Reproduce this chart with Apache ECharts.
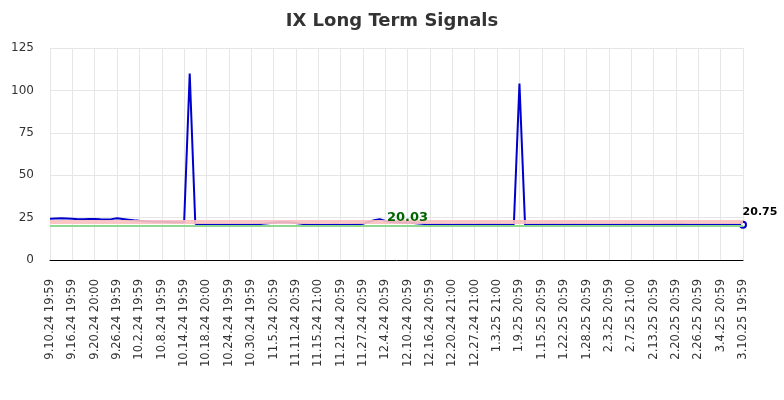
<!DOCTYPE html>
<html>
<head>
<meta charset="utf-8">
<script src="https://cdn.jsdelivr.net/npm/echarts@6/dist/echarts.min.js"></script>
<style>html,body{margin:0;padding:0;background:#fff}#c{width:784px;height:400px}</style>
</head>
<body>
<div id="c"></div>
<script>
const chartTitle = 'IX Long Term Signals';
const categories = [
'9.10.24 19:59','9.11.24 19:59','9.12.24 19:59','9.13.24 19:59','9.16.24 19:59','9.17.24 19:59','9.18.24 19:59','9.19.24 19:59','9.20.24 20:00','9.23.24 19:59','9.24.24 19:59','9.25.24 19:59','9.26.24 19:59','9.27.24 19:59','9.30.24 19:59',
'10.1.24 19:59','10.2.24 19:59','10.3.24 19:59','10.4.24 19:59','10.7.24 19:59','10.8.24 19:59','10.9.24 19:59','10.10.24 19:59','10.11.24 19:59','10.14.24 19:59','10.15.24 19:59','10.16.24 19:59','10.17.24 19:59','10.18.24 20:00','10.21.24 19:59','10.22.24 19:59','10.23.24 19:59','10.24.24 19:59','10.25.24 19:59','10.28.24 19:59','10.29.24 19:59','10.30.24 19:59','10.31.24 19:59',
'11.1.24 19:59','11.4.24 20:59','11.5.24 20:59','11.6.24 20:59','11.7.24 20:59','11.8.24 20:59','11.11.24 20:59','11.12.24 20:59','11.13.24 20:59','11.14.24 20:59','11.15.24 21:00','11.18.24 20:59','11.19.24 20:59','11.20.24 20:59','11.21.24 20:59','11.22.24 20:59','11.25.24 20:59','11.26.24 20:59','11.27.24 20:59','11.29.24 20:59',
'12.2.24 20:59','12.3.24 20:59','12.4.24 20:59','12.5.24 20:59','12.6.24 20:59','12.9.24 20:59','12.10.24 20:59','12.11.24 20:59','12.12.24 20:59','12.13.24 20:59','12.16.24 20:59','12.17.24 20:59','12.18.24 20:59','12.19.24 20:59','12.20.24 21:00','12.23.24 20:59','12.24.24 20:59','12.26.24 20:59','12.27.24 21:00','12.30.24 20:59','12.31.24 20:59',
'1.2.25 20:59','1.3.25 21:00','1.6.25 20:59','1.7.25 20:59','1.8.25 20:59','1.9.25 20:59','1.10.25 20:59','1.13.25 20:59','1.14.25 20:59','1.15.25 20:59','1.16.25 20:59','1.17.25 20:59','1.21.25 20:59','1.22.25 20:59','1.23.25 20:59','1.24.25 20:59','1.27.25 20:59','1.28.25 20:59','1.29.25 20:59','1.30.25 20:59','1.31.25 20:59',
'2.3.25 20:59','2.4.25 20:59','2.5.25 20:59','2.6.25 20:59','2.7.25 21:00','2.10.25 20:59','2.11.25 20:59','2.12.25 20:59','2.13.25 20:59','2.14.25 20:59','2.18.25 20:59','2.19.25 20:59','2.20.25 20:59','2.21.25 20:59','2.24.25 20:59','2.25.25 20:59','2.26.25 20:59','2.27.25 20:59','2.28.25 20:59',
'3.3.25 20:59','3.4.25 20:59','3.5.25 20:59','3.6.25 20:59','3.7.25 20:59','3.10.25 19:59'
];
const priceValues = [
24.3,24.5,24.6,24.5,24.3,24.0,24.1,24.2,24.2,24.0,23.9,24.1,24.6,24.2,23.8,
23.4,23.1,22.9,22.7,22.6,22.5,22.4,22.3,22.2,22.1,110.0,21.4,21.0,20.9,20.9,21.0,20.9,20.9,20.9,20.9,21.0,20.9,21.0,
21.3,21.6,22.0,22.2,22.3,22.1,21.8,21.3,20.9,20.8,20.8,20.7,20.8,20.9,20.8,20.8,20.9,21.0,21.4,22.5,
23.4,24.1,23.0,22.4,22.2,22.0,22.1,21.8,21.5,21.2,21.0,21.0,21.1,21.0,20.9,21.0,21.1,21.0,21.0,21.1,21.0,
21.1,21.0,20.9,21.0,21.1,104.0,21.0,20.9,21.0,21.1,21.0,21.1,21.0,20.9,21.0,21.1,21.0,21.0,20.9,21.0,21.0,
21.0,20.9,21.0,21.1,21.0,21.1,20.9,21.0,20.9,21.0,21.2,21.3,21.2,21.3,21.1,21.0,20.9,21.0,21.0,
21.0,20.9,21.0,20.9,20.8,20.75
];
const resistanceLevel = 22.6;
const supportLevel = 20.03;
const yTicks = [0, 25, 50, 75, 100, 125];

const font = 'DejaVu Sans';
const lastIdx = priceValues.length - 1;
const seriesData = priceValues.map((v, i) => i === lastIdx ? {
  value: v,
  symbol: 'circle',
  symbolSize: 6,
  itemStyle: { color: '#fff', borderColor: '#0000cc', borderWidth: 2 },
  label: {
    show: true, position: 'top', offset: [17, 2], formatter: String(v),
    fontFamily: font, fontWeight: 'bold', fontSize: 11, color: '#000'
  }
} : v);

const chart = echarts.init(document.getElementById('c'), null, { renderer: 'canvas' });
chart.setOption({
  animation: false,
  title: {
    text: chartTitle, left: 'center', top: 7,
    textStyle: { fontFamily: font, fontSize: 18, fontWeight: 'bold', color: '#333' }
  },
  grid: { left: 50, right: 41, top: 48, bottom: 140, containLabel: false },
  xAxis: {
    type: 'category', data: categories, boundaryGap: false,
    axisLine: { lineStyle: { color: '#000', width: 1 } },
    axisTick: { show: false },
    axisLabel: { interval: 3, rotate: 90, margin: 19, fontFamily: font, fontSize: 11.5, color: '#333' },
    splitLine: { show: true, interval: 3, lineStyle: { color: '#e6e6e6' } }
  },
  yAxis: {
    type: 'value', min: yTicks[0], max: yTicks[yTicks.length - 1], interval: 25,
    axisLine: { show: false }, axisTick: { show: false },
    axisLabel: { margin: 16, fontFamily: font, fontSize: 12, color: '#333' },
    splitLine: { lineStyle: { color: '#e6e6e6' } }
  },
  series: [{
    type: 'line', data: seriesData, symbol: 'none', showSymbol: true,
    lineStyle: { color: '#0000cc', width: 2 },
    itemStyle: { color: '#0000cc' },
    z: 3,
    markLine: {
      silent: true, symbol: 'none', z: 5,
      data: [
        { yAxis: resistanceLevel, lineStyle: { color: '#f8c0c0', opacity: 0.92, width: 4, type: 'solid' }, label: { show: false } },
        { yAxis: supportLevel, lineStyle: { color: '#8fd88f', opacity: 1, width: 2, type: 'solid' },
          label: { show: true, position: 'middle', distance: 2, offset: [11, 0], formatter: String(supportLevel),
                   fontFamily: font, fontWeight: 'bold', fontSize: 13, color: '#006400' } }
      ]
    }
  }]
});
</script>
</body>
</html>
